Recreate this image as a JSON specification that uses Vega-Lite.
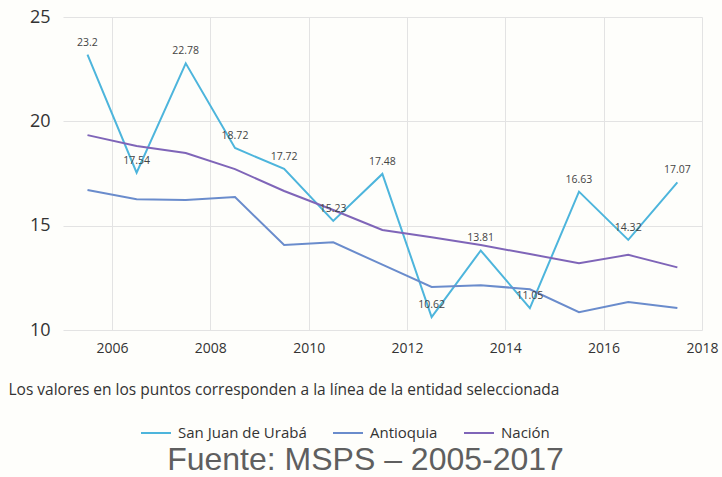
{
  "$schema": "https://vega.github.io/schema/vega-lite/v6.json",
  "width": 639,
  "height": 313,
  "autosize": {"type": "none"},
  "padding": {"left": 63, "top": 17, "right": 20, "bottom": 147},
  "background": "#fefefb",
  "config": {
    "view": {"stroke": null},
    "font": "Open Sans"
  },
  "data": {
    "values": [
      {"fecha": "2005-07-02", "entidad": "San Juan de Urabá", "valor": 23.2},
      {"fecha": "2006-07-02", "entidad": "San Juan de Urabá", "valor": 17.54},
      {"fecha": "2007-07-02", "entidad": "San Juan de Urabá", "valor": 22.78},
      {"fecha": "2008-07-02", "entidad": "San Juan de Urabá", "valor": 18.72},
      {"fecha": "2009-07-02", "entidad": "San Juan de Urabá", "valor": 17.72},
      {"fecha": "2010-07-02", "entidad": "San Juan de Urabá", "valor": 15.23},
      {"fecha": "2011-07-02", "entidad": "San Juan de Urabá", "valor": 17.48},
      {"fecha": "2012-07-02", "entidad": "San Juan de Urabá", "valor": 10.62},
      {"fecha": "2013-07-02", "entidad": "San Juan de Urabá", "valor": 13.81},
      {"fecha": "2014-07-02", "entidad": "San Juan de Urabá", "valor": 11.05},
      {"fecha": "2015-07-02", "entidad": "San Juan de Urabá", "valor": 16.63},
      {"fecha": "2016-07-02", "entidad": "San Juan de Urabá", "valor": 14.32},
      {"fecha": "2017-07-02", "entidad": "San Juan de Urabá", "valor": 17.07},
      {"fecha": "2005-07-02", "entidad": "Antioquia", "valor": 16.71},
      {"fecha": "2006-07-02", "entidad": "Antioquia", "valor": 16.27},
      {"fecha": "2007-07-02", "entidad": "Antioquia", "valor": 16.23},
      {"fecha": "2008-07-02", "entidad": "Antioquia", "valor": 16.37},
      {"fecha": "2009-07-02", "entidad": "Antioquia", "valor": 14.07},
      {"fecha": "2010-07-02", "entidad": "Antioquia", "valor": 14.2},
      {"fecha": "2011-07-02", "entidad": "Antioquia", "valor": 13.13},
      {"fecha": "2012-07-02", "entidad": "Antioquia", "valor": 12.06},
      {"fecha": "2013-07-02", "entidad": "Antioquia", "valor": 12.15},
      {"fecha": "2014-07-02", "entidad": "Antioquia", "valor": 11.95},
      {"fecha": "2015-07-02", "entidad": "Antioquia", "valor": 10.85},
      {"fecha": "2016-07-02", "entidad": "Antioquia", "valor": 11.34},
      {"fecha": "2017-07-02", "entidad": "Antioquia", "valor": 11.05},
      {"fecha": "2005-07-02", "entidad": "Nación", "valor": 19.34},
      {"fecha": "2006-07-02", "entidad": "Nación", "valor": 18.82},
      {"fecha": "2007-07-02", "entidad": "Nación", "valor": 18.48},
      {"fecha": "2008-07-02", "entidad": "Nación", "valor": 17.71},
      {"fecha": "2009-07-02", "entidad": "Nación", "valor": 16.66},
      {"fecha": "2010-07-02", "entidad": "Nación", "valor": 15.75},
      {"fecha": "2011-07-02", "entidad": "Nación", "valor": 14.79},
      {"fecha": "2012-07-02", "entidad": "Nación", "valor": 14.45},
      {"fecha": "2013-07-02", "entidad": "Nación", "valor": 14.07},
      {"fecha": "2014-07-02", "entidad": "Nación", "valor": 13.64},
      {"fecha": "2015-07-02", "entidad": "Nación", "valor": 13.2},
      {"fecha": "2016-07-02", "entidad": "Nación", "valor": 13.6},
      {"fecha": "2017-07-02", "entidad": "Nación", "valor": 13.0}
    ]
  },
  "title": {
    "text": "Fuente: MSPS – 2005-2017",
    "orient": "bottom",
    "anchor": "middle",
    "font": "Liberation Sans",
    "fontSize": 32,
    "fontWeight": "normal",
    "color": "#5f5f5f",
    "offset": 4,
    "dx": -17
  },
  "encoding": {
    "x": {
      "field": "fecha",
      "type": "temporal",
      "scale": {"type": "utc", "domain": [{"year": 2005, "month": 1, "date": 1, "utc": true}, {"year": 2018, "month": 1, "date": 1, "utc": true}]},
      "axis": {
        "values": [
          {"year": 2006, "month": 1, "date": 1, "utc": true},
          {"year": 2008, "month": 1, "date": 1, "utc": true},
          {"year": 2010, "month": 1, "date": 1, "utc": true},
          {"year": 2012, "month": 1, "date": 1, "utc": true},
          {"year": 2014, "month": 1, "date": 1, "utc": true},
          {"year": 2016, "month": 1, "date": 1, "utc": true},
          {"year": 2018, "month": 1, "date": 1, "utc": true}
        ],
        "format": "%Y",
        "domain": false,
        "ticks": false,
        "grid": true,
        "gridColor": "#e3e3e3",
        "labelFontSize": 14,
        "labelColor": "#333333",
        "labelPadding": 11,
        "labelFlush": false,
        "title": "Los valores en los puntos corresponden a la línea de la entidad seleccionada",
        "titleFontSize": 15.5,
        "titleFontWeight": "normal",
        "titleColor": "#333333",
        "titleAlign": "left",
        "titleAnchor": "start",
        "titleBaseline": "middle",
        "titleX": -55,
        "titleY": 59
      }
    },
    "y": {
      "field": "valor",
      "type": "quantitative",
      "scale": {"domain": [10, 25], "zero": false},
      "axis": {
        "values": [10, 15, 20, 25],
        "domain": false,
        "ticks": false,
        "grid": true,
        "gridColor": "#e3e3e3",
        "labelFontSize": 18,
        "labelColor": "#333333",
        "labelPadding": 13,
        "title": null
      }
    }
  },
  "layer": [
    {
      "mark": {"type": "line", "strokeWidth": 2},
      "encoding": {
        "color": {
          "field": "entidad",
          "type": "nominal",
          "scale": {"domain": ["San Juan de Urabá", "Antioquia", "Nación"], "range": ["#4db5dc", "#6a8ccc", "#7f65b8"]},
          "legend": {
            "title": null,
            "orient": "none",
            "direction": "horizontal",
            "legendX": 77,
            "legendY": 400,
            "symbolType": "stroke",
            "symbolSize": 900,
            "symbolStrokeWidth": 2,
            "labelFontSize": 15,
            "labelColor": "#333333",
            "columnPadding": 22,
            "labelOffset": 6
          }
        }
      }
    },
    {
      "transform": [{"filter": "datum.entidad === 'San Juan de Urabá'"}],
      "mark": {"type": "text", "dy": -12, "fontSize": 10.5, "color": "#444444"},
      "encoding": {
        "text": {"field": "valor", "type": "quantitative", "format": ".2~f"}
      }
    }
  ]
}
